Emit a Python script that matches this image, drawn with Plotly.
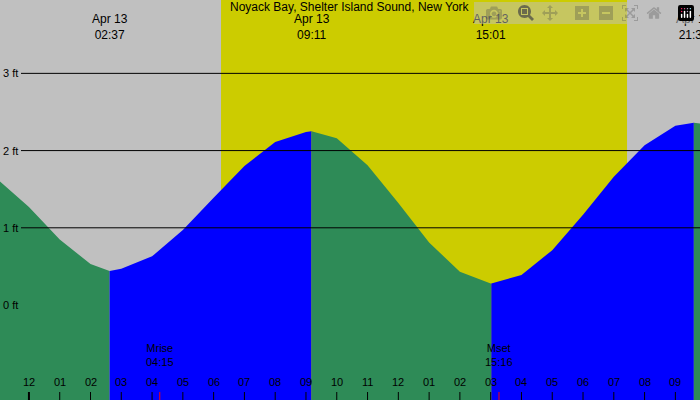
import plotly.graph_objects as go

# hours since midnight Apr 13, heights in ft
TIDE_H = [-0.94, 0, 1, 2, 2.62, 3, 4, 5, 6, 7, 8, 9, 9.18, 10, 11, 12, 13, 14, 15, 15.02,
          16, 17, 18, 19, 20, 21, 21.6, 21.8]
TIDE_FT = [1.60, 1.27, 0.85, 0.53, 0.44, 0.47, 0.63, 0.97, 1.39, 1.80, 2.11, 2.24, 2.25, 2.16,
           1.81, 1.32, 0.81, 0.43, 0.28, 0.28, 0.39, 0.71, 1.17, 1.66, 2.07, 2.32, 2.36, 2.35]
EXTREMES_H = [2.62, 9.18, 15.02, 21.6]
EXTREMES_LBL = ["02:37", "09:11", "15:01", "21:36"]
SUNRISE, SUNSET = 6.24, 19.43
MOON_H = [4.25, 15.27]
MOON_LBL = ["Mrise<br>04:15", "Mset<br>15:16"]
HOUR_TICKS = list(range(-1, 22))
GRID_FT = [0, 1, 2, 3]

X0, X1 = -0.94, 21.8
Y0, Y1 = -1.23, 3.95
GREEN, BLUE = "#2E8B57", "#0000FF"

fig = go.Figure()

# split curve into falling (green) / rising (blue) pieces at extremes
bounds = [X0] + EXTREMES_H + [X1]
for i in range(len(bounds) - 1):
    a, b = bounds[i], bounds[i + 1]
    xs = [h for h in TIDE_H if a <= h <= b]
    ys = [TIDE_FT[TIDE_H.index(h)] for h in xs]
    rising = ys[-1] > ys[0]
    fig.add_trace(go.Scatter(
        x=xs + [xs[-1], xs[0]], y=ys + [Y0 - 1, Y0 - 1], fill="toself", mode="none",
        fillcolor=BLUE if rising else GREEN, hoverinfo="skip",
    ))

shapes = [dict(type="rect", xref="x", yref="paper", x0=SUNRISE, x1=SUNSET, y0=0, y1=1,
               fillcolor="#CCCC00", line_width=0, layer="below")]
for ft in GRID_FT[1:]:
    shapes.append(dict(type="line", xref="paper", yref="y", x0=0.03, x1=1, y0=ft, y1=ft,
                       line=dict(color="black", width=1)))
for h in HOUR_TICKS:
    shapes.append(dict(type="line", xref="x", yref="paper", x0=h, x1=h, y0=0, y1=0.02,
                       line=dict(color="black", width=2 if h % 24 == 0 else 1)))
for h in MOON_H:
    shapes.append(dict(type="line", xref="x", yref="paper", x0=h, x1=h, y0=0, y1=0.02,
                       line=dict(color="red", width=1)))

ann = [dict(text="Noyack Bay, Shelter Island Sound, New York", x=0.5, y=1.005, xref="paper",
            yref="paper", yanchor="top", showarrow=False, font=dict(size=12))]
for h, lbl in zip(EXTREMES_H, EXTREMES_LBL):
    ann.append(dict(text=f"Apr 13<br>{lbl}", x=h, y=0.975, xref="x", yref="paper",
                    yanchor="top", showarrow=False, font=dict(size=12)))
for ft in GRID_FT:
    ann.append(dict(text=f"{ft} ft", x=0.001, y=ft, xref="paper", yref="y", xanchor="left",
                    showarrow=False, font=dict(size=11)))
for h in HOUR_TICKS:
    ann.append(dict(text=f"{(h - 1) % 12 + 1:02d}", x=h, y=0.025, xref="x", yref="paper",
                    yanchor="bottom", showarrow=False, font=dict(size=11)))
for h, lbl in zip(MOON_H, MOON_LBL):
    ann.append(dict(text=lbl, x=h, y=0.075, xref="x", yref="paper", yanchor="bottom",
                    showarrow=False, font=dict(size=11)))

fig.update_layout(
    width=700, height=400, margin=dict(l=0, r=0, t=0, b=0),
    paper_bgcolor="#C0C0C0", plot_bgcolor="#C0C0C0", showlegend=False,
    xaxis=dict(range=[X0, X1], visible=False),
    yaxis=dict(range=[Y0, Y1], visible=False),
    shapes=shapes, annotations=ann,
    font=dict(family="Liberation Sans", color="black"),
)
fig.write_html("out.html", post_script="document.body.style.margin='0';")
